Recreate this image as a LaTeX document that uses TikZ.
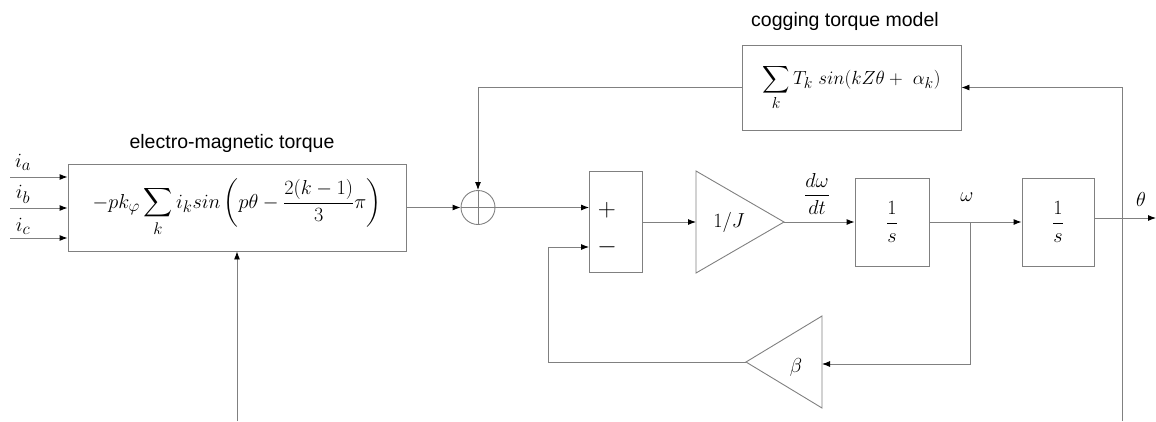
\documentclass[tikz,border=0pt]{standalone}
\usepackage{amsmath}
\usepackage{graphicx}
\usepackage{fontspec}
\setmainfont{Liberation Sans}
\usetikzlibrary{arrows.meta}
\definecolor{linegray}{HTML}{808080}
\newcommand\mfs{\fontsize{19}{23}\selectfont}
\newcommand\tfs{\fontsize{19.5}{23}\selectfont}
\newcommand\mth[1]{\scalebox{1.17}{$\displaystyle #1$}}
\tikzset{
  ln/.style={draw=linegray, line width=0.9pt},
  arr/.style={ln, -{Latex[length=8pt,width=6pt,color=black]}},
  blockbox/.style={draw=linegray, line width=0.9pt, inner sep=0pt, font=\mfs},
  lbl/.style={inner sep=0pt, font=\mfs},
  ttl/.style={inner sep=0pt, font=\tfs},
}
\begin{document}
\begin{tikzpicture}[x=1pt,y=-1pt]
\useasboundingbox (0,0) rectangle (1156,421);
% titles
\node[ttl] (emt) at (232,143) {electro-magnetic torque};
\node[ttl] (cgt) at (845,21) {cogging torque model};
% blocks
\node[blockbox, minimum width=338pt, minimum height=87pt] (em) at (237,207.5)
  {\mth{-pk_\varphi\sum_k i_k sin\left(p\theta-\frac{2(k-1)}{3}\pi\right)}};
\node[blockbox, minimum width=219pt, minimum height=85pt] (cog) at (851.5,87.5)
  {\scalebox{1.1}{$\displaystyle \sum_k T_k\; sin(kZ\theta+\ \alpha_k)$}};
\node[draw=linegray, line width=0.9pt, circle, minimum size=34pt, inner sep=0pt] (sum) at (478,207.5) {};
\draw[ln] (sum.north) -- (sum.south) (sum.west) -- (sum.east);
\node[blockbox, minimum width=53pt, minimum height=101pt] (pm) at (616,222) {};
\node[lbl] (plus) at (607,210) {\scalebox{1.45}{$+$}};
\node[lbl] (minus) at (607,247) {\scalebox{1.45}{$-$}};
\node[blockbox, minimum width=74pt, minimum height=88pt] (int1) at (892,222) {\mth{\frac{1}{s}}};
\node[blockbox, minimum width=72pt, minimum height=88pt] (int2) at (1058,222) {\mth{\frac{1}{s}}};
% gain triangles
\coordinate (jIn) at (696,222);
\coordinate (jApex) at (784,222);
\draw[ln] (696,171) -- (696,273) -- (jApex) -- cycle;
\node[lbl] (jtxt) at (729,222) {\mth{1/J}};
\coordinate (bIn) at (822,364);
\coordinate (bApex) at (746,362);
\draw[ln] (822,316) -- (822,408) -- (bApex) -- cycle;
\node[lbl] (btxt) at (796,367) {\mth{\beta}};
% inputs
\coordinate (ia) at (10,177);
\coordinate (ib) at (10,208);
\coordinate (ic) at (10,238);
\draw[arr] (ia) -- (ia -| em.west);
\draw[arr] (ib) -- (ib -| em.west);
\draw[arr] (ic) -- (ic -| em.west);
\node[lbl] (la) at (23,162) {\mth{i_a}};
\node[lbl] (lb) at (23,194) {\mth{i_b}};
\node[lbl] (lc) at (23,226) {\mth{i_c}};
\coordinate (pbot) at (237,421);
\draw[arr] (pbot) -- (em.south);
% main path
\draw[arr] (em.east) -- (sum.west);
\draw[arr] (cog.west) -| (sum.north);
\draw[arr] (sum.east) -- (sum.east -| pm.west);
\draw[arr] (pm.east) -- (jIn);
\draw[arr] (jApex) -- (int1.west);
\node[lbl] (dw) at (817,194) {\mth{\frac{d\omega}{dt}}};
\coordinate (br) at (970,222);
\draw[arr] (int1.east) -- (int2.west);
\node[lbl] (wl) at (967,197) {\mth{\omega}};
\draw[arr] (br) |- (bIn);
\coordinate (fb) at (548,362);
\draw[arr] (bApex) -- (fb) |- ([yshift=-25pt]pm.west);
\coordinate (thOut) at (1156,218);
\draw[arr] (thOut -| int2.east) -- (thOut);
\node[lbl] (thl) at (1141,199) {\mth{\theta}};
\coordinate (cb) at (1122,421);
\draw[arr] (cb) |- (cog.east);
\end{tikzpicture}
\end{document}
